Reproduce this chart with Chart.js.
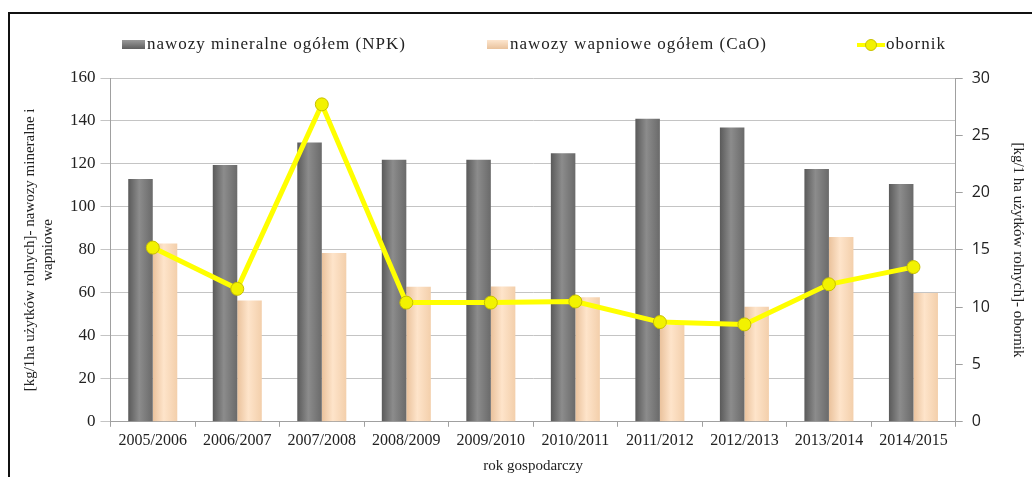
<!DOCTYPE html>
<html>
<head>
<meta charset="utf-8">
<script src="https://cdn.jsdelivr.net/npm/chart.js@4"></script>
<style>
  html, body { margin: 0; padding: 0; background: #fff; }
  #wrap { position: relative; width: 1032px; height: 477px; overflow: hidden; }
  #frame { position: absolute; left: 8px; top: 12px; width: 1060px; height: 520px; border: 2px solid #111; box-sizing: border-box; pointer-events: none; }
  canvas { position: absolute; left: 0; top: 0; }
</style>
</head>
<body>
<div id="wrap">
  <div id="frame"></div>
  <canvas id="chart" width="1032" height="477"></canvas>
</div>
<script>
// --- data ---
const years = ['2005/2006', '2006/2007', '2007/2008', '2008/2009', '2009/2010',
               '2010/2011', '2011/2012', '2012/2013', '2013/2014', '2014/2015'];
const npk = [113, 119.5, 130, 122, 122, 125, 141, 137, 117.7, 110.7];
const cao = [83, 56.5, 78.5, 62.8, 63, 58, 45, 53.5, 86, 60];
const obornik = [15.2, 11.6, 27.7, 10.4, 10.4, 10.5, 8.7, 8.5, 12.0, 13.5];

const leftTicks = [0, 20, 40, 60, 80, 100, 120, 140, 160];
const rightTicks = [0, 5, 10, 15, 20, 25, 30];

const serif = '"Liberation Serif", "Times New Roman", serif';
const sans = '"Open Sans", "Liberation Sans", sans-serif';

// shading so the bars look a bit like the rounded excel columns
const barShades = {
    1: ['#5a5a5a', '#8c8c8c', '#6a6a6a'],
    2: ['#eac29c', '#fee4ca', '#f3cfab']
};

const shadePlugin = {
    id: 'barShade',
    beforeDatasetsDraw(chart) {
        const c = chart.ctx;
        Object.keys(barShades).forEach(i => {
            const meta = chart.getDatasetMeta(+i);
            const cols = barShades[i];
            meta.data.forEach(el => {
                const half = el.width / 2;
                const g = c.createLinearGradient(el.x - half, 0, el.x + half, 0);
                g.addColorStop(0, cols[0]);
                g.addColorStop(0.45, cols[1]);
                g.addColorStop(1, cols[2]);
                el.options = Object.assign({}, el.options, { backgroundColor: g });
            });
        });
    }
};

// legend drawn by hand so the spacing matches the original
const legendPlugin = {
    id: 'spreadLegend',
    afterDraw(chart) {
        const c = chart.ctx;
        const ds = chart.data.datasets;
        const y = 45;
        c.save();
        c.font = '17px ' + serif;
        c.letterSpacing = '1px';
        c.textBaseline = 'middle';

        let g = c.createLinearGradient(0, y - 5, 0, y + 4);
        g.addColorStop(0, '#9a9a9a');
        g.addColorStop(1, '#5e5e5e');
        c.fillStyle = g;
        c.fillRect(122, y - 5, 23, 9);
        c.fillStyle = '#222';
        c.fillText(ds[1].label, 147, y);

        g = c.createLinearGradient(0, y - 5, 0, y + 4);
        g.addColorStop(0, '#fde6cf');
        g.addColorStop(1, '#e9c29c');
        c.fillStyle = g;
        c.fillRect(487, y - 5, 21, 9);
        c.fillStyle = '#222';
        c.fillText(ds[2].label, 510, y);

        c.strokeStyle = '#ffff00';
        c.lineWidth = 4;
        c.beginPath();
        c.moveTo(857, y);
        c.lineTo(885, y);
        c.stroke();
        c.beginPath();
        c.arc(871, y, 5.5, 0, Math.PI * 2);
        c.fillStyle = '#f2f200';
        c.fill();
        c.lineWidth = 1;
        c.strokeStyle = '#c8c000';
        c.stroke();
        c.fillStyle = '#222';
        c.fillText(ds[0].label, 886, y);
        c.restore();
    }
};

const ctx = document.getElementById('chart');
new Chart(ctx, {
    type: 'bar',
    data: {
        labels: years,
        datasets: [
            {
                type: 'line',
                label: 'obornik',
                data: obornik,
                yAxisID: 'y2',
                borderColor: '#ffff00',
                borderWidth: 5,
                backgroundColor: '#f2f200',
                pointRadius: 6.5,
                pointBorderColor: '#c8c000',
                pointBorderWidth: 1,
                tension: 0,
                order: 0
            },
            {
                label: 'nawozy mineralne ogółem (NPK)',
                data: npk,
                yAxisID: 'y',
                backgroundColor: '#7a7a7a',
                borderWidth: 0,
                categoryPercentage: 0.58,
                barPercentage: 1,
                order: 1
            },
            {
                label: 'nawozy wapniowe ogółem (CaO)',
                data: cao,
                yAxisID: 'y',
                backgroundColor: '#fcd9b6',
                borderWidth: 0,
                categoryPercentage: 0.58,
                barPercentage: 1,
                order: 1
            }
        ]
    },
    options: {
        responsive: false,
        animation: false,
        layout: { padding: { top: 78, left: 21, right: 5, bottom: 2 } },
        plugins: {
            legend: { display: false },
            tooltip: { enabled: false }
        },
        scales: {
            x: {
                offset: true,
                grid: {
                    offset: true,
                    drawOnChartArea: false,
                    color: '#a0a0a0',
                    tickLength: 5
                },
                border: { color: '#a0a0a0' },
                ticks: {
                    color: '#222',
                    font: { family: serif, size: 16 },
                    padding: 4,
                    maxRotation: 0
                },
                title: {
                    display: true,
                    text: 'rok gospodarczy',
                    color: '#222',
                    font: { family: serif, size: 15 },
                    padding: { top: 3, bottom: 0 }
                }
            },
            y: {
                position: 'left',
                min: 0,
                max: 160,
                afterBuildTicks: axis => { axis.ticks = leftTicks.map(v => ({ value: v })); },
                grid: { color: '#c4c4c4', tickLength: 10 },
                border: { color: '#a0a0a0' },
                ticks: {
                    color: '#222',
                    font: { family: serif, size: 17 },
                    padding: 5
                },
                title: {
                    display: true,
                    text: ['[kg/1ha użytków rolnych]- nawozy mineralne i', 'wapniowe'],
                    color: '#222',
                    font: { family: serif, size: 15 },
                    padding: { top: 0, bottom: 8 }
                }
            },
            y2: {
                position: 'right',
                min: 0,
                max: 30,
                afterBuildTicks: axis => { axis.ticks = rightTicks.map(v => ({ value: v })); },
                grid: { drawOnChartArea: false, color: '#a0a0a0', tickLength: 7 },
                border: { color: '#a0a0a0' },
                ticks: {
                    color: '#222',
                    font: { family: sans, size: 16 },
                    padding: 9
                },
                title: {
                    display: true,
                    text: '[kg/1 ha użytków rolnych]- obornik',
                    color: '#222',
                    font: { family: serif, size: 15 },
                    padding: { top: 0, bottom: 10 }
                }
            }
        }
    },
    plugins: [shadePlugin, legendPlugin]
});
</script>
</body>
</html>
